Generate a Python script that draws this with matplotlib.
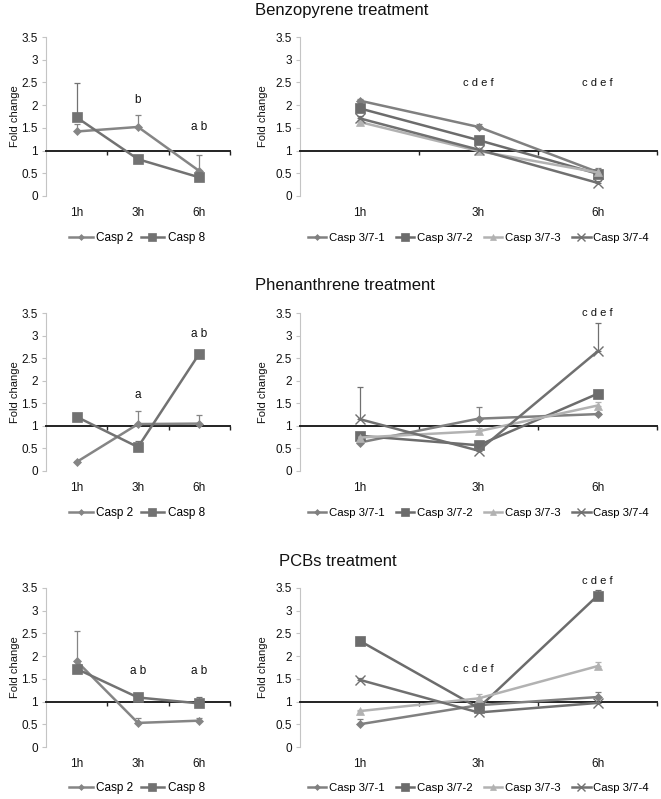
import matplotlib
matplotlib.use("Agg")
import matplotlib.pyplot as plt
import matplotlib.transforms as mtransforms
from matplotlib.lines import Line2D

plt.rcParams['font.family'] = ['Liberation Sans', 'DejaVu Sans']

times = ["1h", "3h", "6h"]
left_names = ["Casp 2", "Casp 8"]
right_names = ["Casp 3/7-1", "Casp 3/7-2", "Casp 3/7-3", "Casp 3/7-4"]
titles = ["Benzopyrene treatment", "Phenanthrene treatment", "PCBs treatment"]

# Benzopyrene
benz_casp2 = [1.42, 1.52, 0.55]
benz_casp2_err = [0.16, 0.26, 0.35]
benz_casp8 = [1.73, 0.81, 0.41]
benz_casp8_err = [0.75, 0.05, 0.05]
benz_c37_1 = [2.10, 1.52, 0.53]
benz_c37_1_err = [0.03, 0.06, 0.09]
benz_c37_2 = [1.93, 1.23, 0.49]
benz_c37_2_err = [0.05, 0.05, 0.05]
benz_c37_3 = [1.63, 0.99, 0.52]
benz_c37_3_err = [0.04, 0.03, 0.04]
benz_c37_4 = [1.71, 1.02, 0.29]
benz_c37_4_err = [0.05, 0.03, 0.03]

# Phenanthrene
phen_casp2 = [0.20, 1.04, 1.05]
phen_casp2_err = [0.03, 0.29, 0.19]
phen_casp8 = [1.20, 0.53, 2.60]
phen_casp8_err = [0.03, 0.14, 0.05]
phen_c37_1 = [0.63, 1.16, 1.26]
phen_c37_1_err = [0.03, 0.26, 0.03]
phen_c37_2 = [0.78, 0.57, 1.71]
phen_c37_2_err = [0.03, 0.03, 0.03]
phen_c37_3 = [0.74, 0.88, 1.45]
phen_c37_3_err = [0.03, 0.07, 0.07]
phen_c37_4 = [1.15, 0.45, 2.65]
phen_c37_4_err = [0.72, 0.03, 0.62]

# PCBs
pcb_casp2 = [1.89, 0.53, 0.58]
pcb_casp2_err = [0.67, 0.10, 0.06]
pcb_casp8 = [1.72, 1.09, 0.96]
pcb_casp8_err = [0.05, 0.04, 0.15]
pcb_c37_1 = [0.50, 0.92, 1.10]
pcb_c37_1_err = [0.12, 0.03, 0.12]
pcb_c37_2 = [2.34, 0.86, 3.33]
pcb_c37_2_err = [0.03, 0.03, 0.12]
pcb_c37_3 = [0.79, 1.07, 1.78]
pcb_c37_3_err = [0.03, 0.09, 0.10]
pcb_c37_4 = [1.48, 0.76, 0.97]
pcb_c37_4_err = [0.03, 0.03, 0.03]

left_data = [
    [(benz_casp2, benz_casp2_err), (benz_casp8, benz_casp8_err)],
    [(phen_casp2, phen_casp2_err), (phen_casp8, phen_casp8_err)],
    [(pcb_casp2, pcb_casp2_err), (pcb_casp8, pcb_casp8_err)],
]
right_data = [
    [(benz_c37_1, benz_c37_1_err), (benz_c37_2, benz_c37_2_err),
     (benz_c37_3, benz_c37_3_err), (benz_c37_4, benz_c37_4_err)],
    [(phen_c37_1, phen_c37_1_err), (phen_c37_2, phen_c37_2_err),
     (phen_c37_3, phen_c37_3_err), (phen_c37_4, phen_c37_4_err)],
    [(pcb_c37_1, pcb_c37_1_err), (pcb_c37_2, pcb_c37_2_err),
     (pcb_c37_3, pcb_c37_3_err), (pcb_c37_4, pcb_c37_4_err)],
]

left_annots = [
    [("b", 1, 2.12), ("a b", 2, 1.52)],
    [("a", 1, 1.68), ("a b", 2, 3.04)],
    [("a b", 1, 1.68), ("a b", 2, 1.68)],
]
right_annots = [
    [("c d e f", 1, 2.48), ("c d e f", 2, 2.48)],
    [("c d e f", 2, 3.49)],
    [("c d e f", 1, 1.72), ("c d e f", 2, 3.65)],
]

left_styles = [dict(color="#858585", marker="D", ms=4),
               dict(color="#727272", marker="s", ms=7)]
right_styles = [dict(color="#808080", marker="D", ms=4),
                dict(color="#6c6c6c", marker="s", ms=7),
                dict(color="#b2b2b2", marker="^", ms=6),
                dict(color="#707070", marker="x", ms=7, mew=1.0)]

W, H = 661, 799
fig = plt.figure(figsize=(W / 100, H / 100), dpi=100)

row_tops = [37, 313, 588]
row_bots = [196, 471, 747]
left_x = (46, 230)
right_x = (300, 657)
title_pos = [(342, 10), (345, 285), (338, 562)]
legend_y = [238, 513, 788]


def make_ax(x0, x1, top, bot):
    return fig.add_axes([x0 / W, 1 - bot / H, (x1 - x0) / W, (bot - top) / H])


def style_ax(ax):
    ax.set_xlim(-0.5, 2.5)
    ax.set_ylim(0, 3.5)
    for s in ["top", "right"]:
        ax.spines[s].set_visible(False)
    ax.spines["left"].set_color("#c4c4c4")
    ax.spines["left"].set_linewidth(0.8)
    ax.spines["bottom"].set_position(("data", 1))
    ax.spines["bottom"].set_color("#222222")
    ax.spines["bottom"].set_linewidth(1.4)
    ax.set_yticks([0, 0.5, 1, 1.5, 2, 2.5, 3, 3.5])
    ax.set_yticklabels(["0", "0.5", "1", "1.5", "2", "2.5", "3", "3.5"])
    ax.tick_params(axis="y", length=3, width=0.8, color="#c4c4c4",
                   labelsize=8.5, pad=3, labelcolor="#111111")
    ax.set_xticks([0.5, 1.5, 2.5])
    ax.set_xticklabels([])
    ax.tick_params(axis="x", length=3, width=1.0, color="#222222")
    trans = mtransforms.offset_copy(ax.get_xaxis_transform(), fig=fig, x=0, y=-12, units="points")
    for i, t in enumerate(times):
        ax.text(i, 0, t, transform=trans, ha="center", va="center", fontsize=8.5, color="#111111")


def plot_series(ax, data, styles, names):
    handles = []
    for (vals, err), st, name in zip(data, styles, names):
        c = st["color"]
        ax.errorbar(range(len(times)), vals, yerr=[[0] * len(err), err], fmt="none",
                    ecolor=c, elinewidth=0.9, capsize=2, capthick=0.9, zorder=2)
        ax.plot(range(len(times)), vals, color=c, lw=1.8, marker=st["marker"],
                ms=st["ms"], mew=st.get("mew", 0.5), mec=c, mfc=c, zorder=3, label=name)
        handles.append(Line2D([], [], color=c, lw=1.8, marker=st["marker"],
                              ms=st["ms"] * 0.75, mew=st.get("mew", 0.5), mec=c, mfc=c))
    return handles


for r in range(3):
    top, bot = row_tops[r], row_bots[r]
    leg_y = (bot - legend_y[r]) / (bot - top)

    # left panel
    axl = make_ax(left_x[0], left_x[1], top, bot)
    style_ax(axl)
    h = plot_series(axl, left_data[r], left_styles, left_names)
    for txt, xi, yv in left_annots[r]:
        axl.text(xi, yv, txt, ha="center", va="center", fontsize=8.5, color="#111111")
    fig.text(15 / W, 1 - ((top + bot) / 2) / H, "Fold change", rotation=90,
             ha="center", va="center", fontsize=8, color="#111111")
    axl.legend(h, left_names, loc="center", bbox_to_anchor=(0.495, leg_y), ncol=2,
               frameon=False, fontsize=8.5, handlelength=2.0, columnspacing=0.6,
               handletextpad=0.3)

    # right panel
    axr = make_ax(right_x[0], right_x[1], top, bot)
    style_ax(axr)
    h = plot_series(axr, right_data[r], right_styles, right_names)
    for txt, xi, yv in right_annots[r]:
        axr.text(xi, yv, txt, ha="center", va="center", fontsize=8, color="#111111")
    fig.text(263 / W, 1 - ((top + bot) / 2) / H, "Fold change", rotation=90,
             ha="center", va="center", fontsize=8, color="#111111")
    axr.legend(h, right_names, loc="center", bbox_to_anchor=(0.5, leg_y), ncol=4,
               frameon=False, fontsize=8.2, handlelength=1.6, columnspacing=1.0,
               handletextpad=0.25)

    tx, ty = title_pos[r]
    fig.text(tx / W, 1 - ty / H, titles[r], ha="center", va="center",
             fontsize=12, color="#111111")

fig.savefig("out.png", dpi=100)
